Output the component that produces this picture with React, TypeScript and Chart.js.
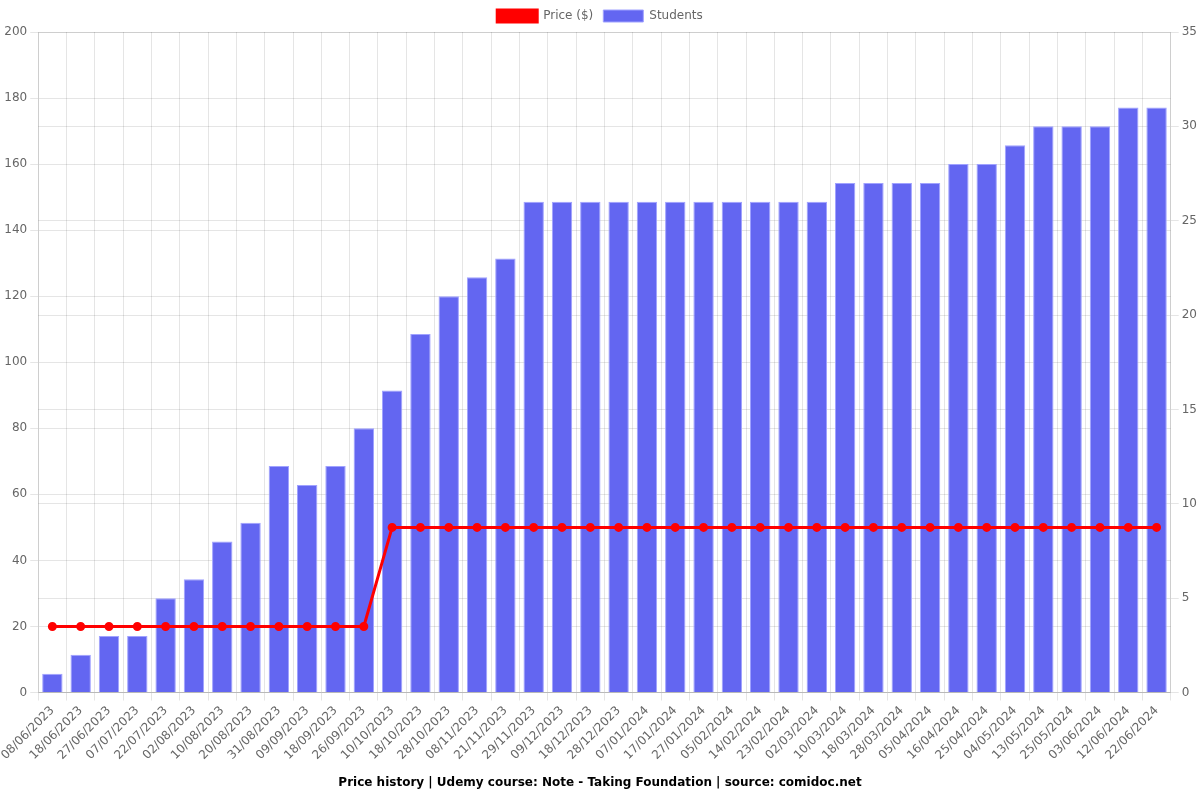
import React, { useEffect, useRef } from "react";
import { Chart, registerables } from "chart.js";

Chart.register(...registerables);

const dates = [
  "08/06/2023", "18/06/2023", "27/06/2023", "07/07/2023", "22/07/2023", "02/08/2023", "10/08/2023", "20/08/2023",
  "31/08/2023", "09/09/2023", "18/09/2023", "26/09/2023", "10/10/2023", "18/10/2023", "28/10/2023", "08/11/2023",
  "21/11/2023", "29/11/2023", "09/12/2023", "18/12/2023", "28/12/2023", "07/01/2024", "17/01/2024", "27/01/2024",
  "05/02/2024", "14/02/2024", "23/02/2024", "02/03/2024", "10/03/2024", "18/03/2024", "28/03/2024", "05/04/2024",
  "16/04/2024", "25/04/2024", "04/05/2024", "13/05/2024", "25/05/2024", "03/06/2024", "12/06/2024", "22/06/2024",
];

const prices = [
  20, 20, 20, 20, 20, 20, 20, 20, 20, 20, 20, 20,
  50, 50, 50, 50, 50, 50, 50, 50, 50, 50, 50, 50, 50, 50, 50, 50,
  50, 50, 50, 50, 50, 50, 50, 50, 50, 50, 50, 50,
];

const students = [
  1, 2, 3, 3, 5, 6, 8, 9, 12, 11, 12, 14, 16, 19, 21, 22,
  23, 26, 26, 26, 26, 26, 26, 26, 26, 26, 26, 26, 27, 27, 27, 27,
  28, 28, 29, 30, 30, 30, 31, 31,
];

const titleText = "Price history | Udemy course: Note - Taking Foundation | source: comidoc.net";

export default function App() {
  const ref = useRef<HTMLCanvasElement>(null);
  useEffect(() => {
    if (!ref.current) return;
    Chart.defaults.font.family = "'DejaVu Sans', sans-serif";
    const chart = new Chart(ref.current, {
      type: "bar",
      data: {
        labels: dates,
        datasets: [
          {
            type: "line",
            label: "Price ($)",
            data: prices,
            borderColor: "rgb(255,0,0)",
            backgroundColor: "rgb(255,0,0)",
            borderWidth: 3,
            pointRadius: 3,
            pointBackgroundColor: "rgb(255,0,0)",
            yAxisID: "y",
            order: 0,
          },
          {
            type: "bar",
            label: "Students",
            data: students,
            backgroundColor: "rgb(99,102,241)",
            borderColor: "rgba(160,162,255,1)",
            borderWidth: 1,
            yAxisID: "y1",
            order: 1,
          },
        ],
      },
      options: {
        animation: false,
        responsive: false,
        maintainAspectRatio: false,
        plugins: {
          legend: { position: "top" },
          title: {
            display: true,
            text: titleText,
            position: "bottom",
            font: { weight: "bold", size: 12 },
            color: "#000",
          },
        },
        scales: {
          x: { ticks: { maxRotation: 45, minRotation: 45, autoSkip: false } },
          y: { position: "left", min: 0, max: 200, ticks: { stepSize: 20 } },
          y1: { position: "right", min: 0, max: 35, ticks: { stepSize: 5 } },
        },
      },
    });
    return () => chart.destroy();
  }, []);
  return (
    <div style={{ position: "absolute", left: 0, top: 0, width: 1200, height: 800 }}>
      <canvas ref={ref} width={1200} height={800} />
    </div>
  );
}
